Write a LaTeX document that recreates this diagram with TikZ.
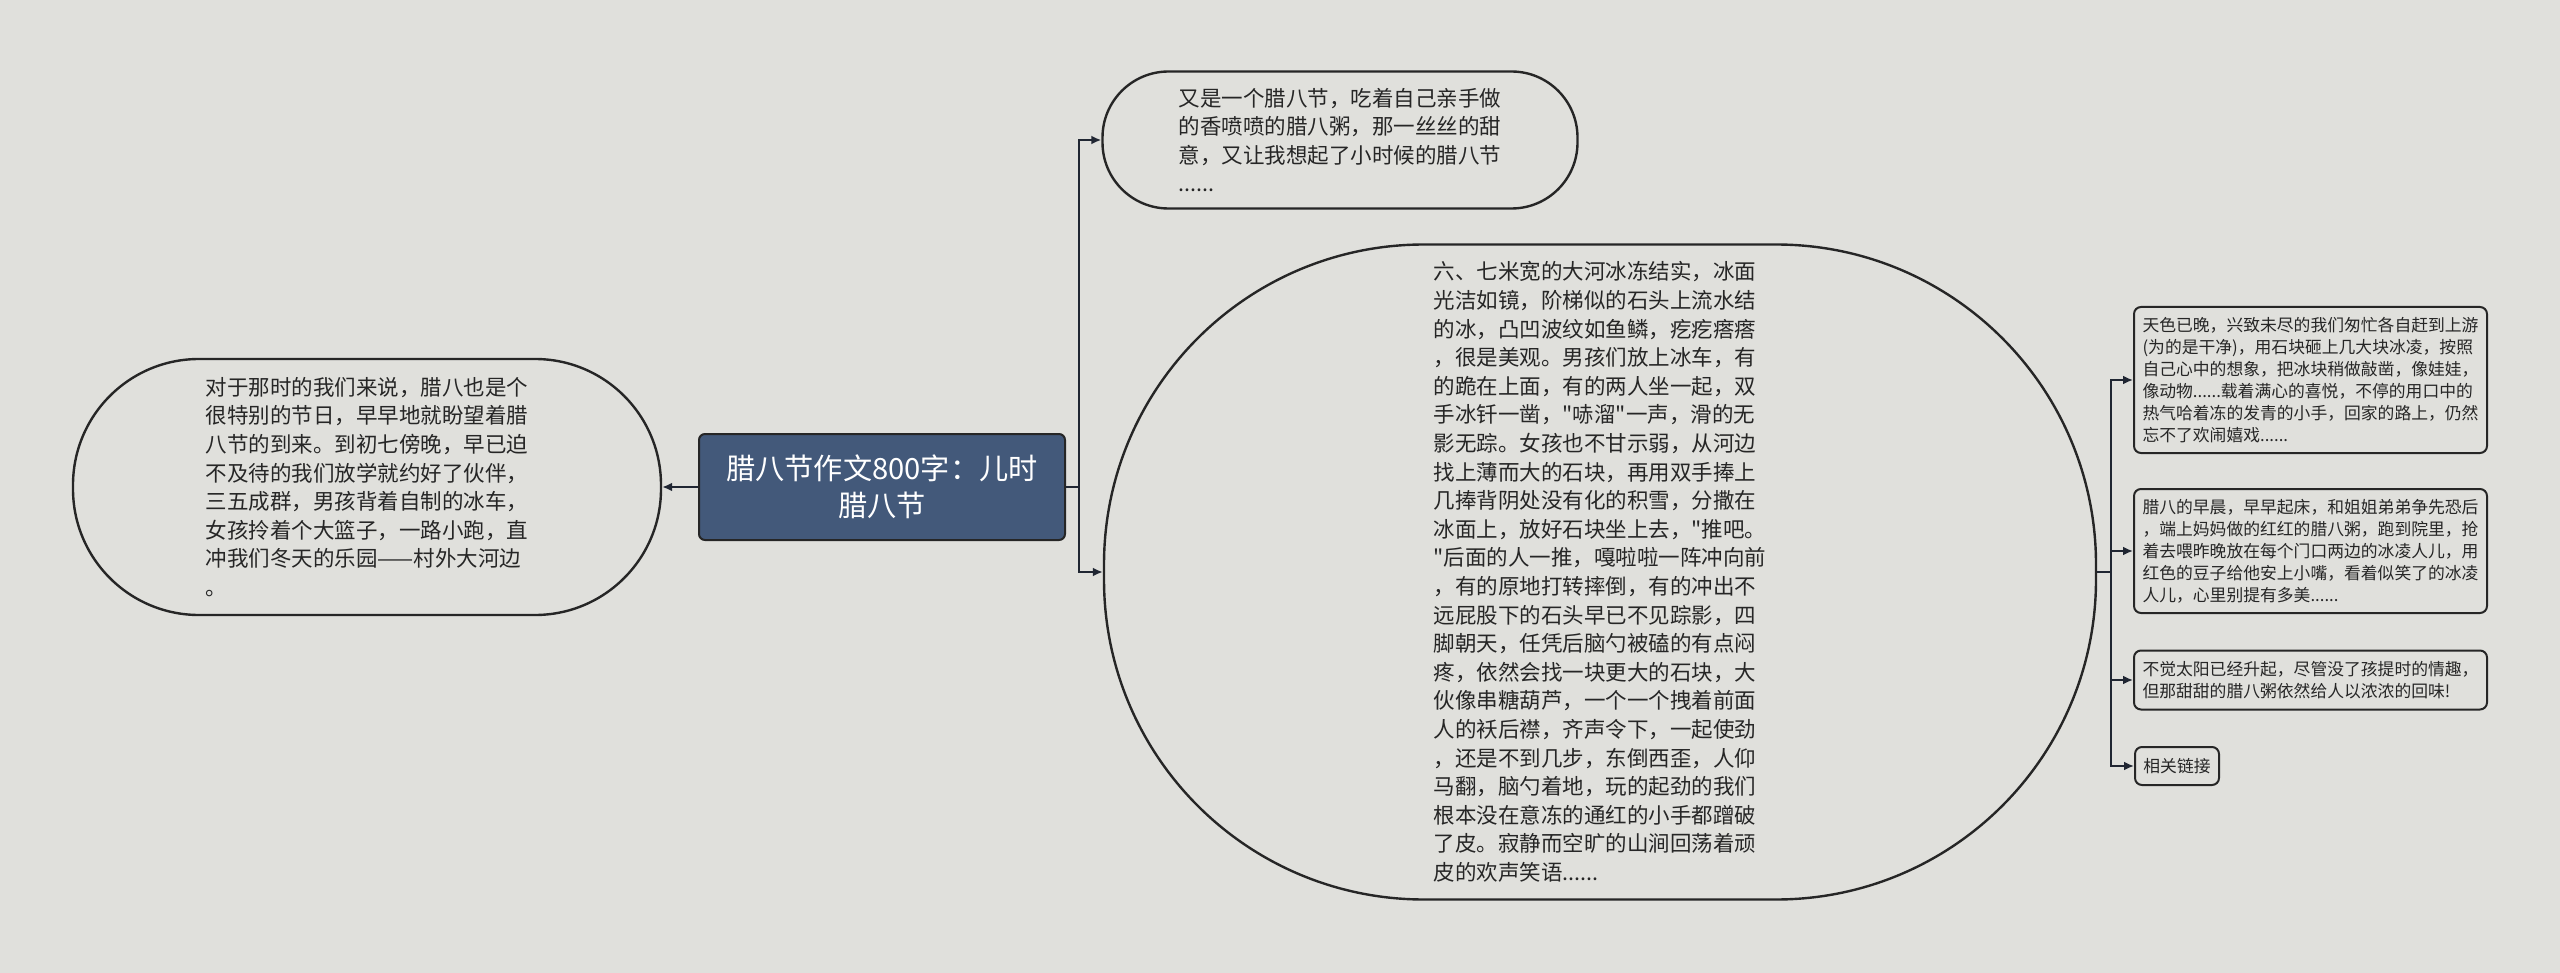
\documentclass[tikz,border=0pt]{standalone}
\usepackage{fontspec}
\setmainfont{Noto Sans CJK SC}[Ligatures=TeXOff]
\usetikzlibrary{arrows.meta}
\definecolor{bg}{RGB}{224,224,220}
\definecolor{hub}{RGB}{67,89,122}
\definecolor{ink}{RGB}{38,38,38}
\definecolor{wire}{RGB}{32,38,50}
\begin{document}
\begin{tikzpicture}[x=0.5pt,y=-0.5pt,
  bubble/.style={draw=ink, line width=1.2pt, text=ink, font=\fontsize{10.75pt}{14.3pt}\selectfont, align=left, inner sep=2pt},
  hubbox/.style={draw=black!85, fill=hub, text=white, rounded corners=3pt, line width=1pt, font=\fontsize{14.6pt}{18.5pt}\selectfont, align=center, minimum width=183pt, minimum height=53pt},
  leafbase/.style={draw=ink, line width=1pt, rounded corners=3.5pt, text=ink, font=\fontsize{8.4pt}{11pt}\selectfont, align=left, inner ysep=2pt},
  leaf/.style={leafbase, text width=168pt, inner xsep=4.25pt},
  conn/.style={draw=wire, line width=1.1pt, -{Latex[length=5pt,width=4.5pt]}}]
\fill[bg] (0,0) rectangle (2560,973);
\useasboundingbox (0,0) rectangle (2560,973);

\node[hubbox] (hub) at (882,487) {腊八节作文800字：儿时\\腊八节};

\node[bubble, minimum width=294pt, minimum height=128pt, rounded corners=63pt] (left) at (367,487)
{对于那时的我们来说，腊八也是个\\很特别的节日，早早地就盼望着腊\\八节的到来。到初七傍晚，早已迫\\不及待的我们放学就约好了伙伴，\\三五成群，男孩背着自制的冰车，\\女孩拎着个大篮子，一路小跑，直\\冲我们冬天的乐园——村外大河边\\。};

\node[bubble, minimum width=237.5pt, minimum height=68.5pt, rounded corners=33pt] (top) at (1340,140)
{又是一个腊八节，吃着自己亲手做\\的香喷喷的腊八粥，那一丝丝的甜\\意，又让我想起了小时候的腊八节\\......};

\node[bubble, minimum width=496pt, minimum height=327.5pt, rounded corners=160pt] (big) at (1600,572)
{六、七米宽的大河冰冻结实，冰面\\光洁如镜，阶梯似的石头上流水结\\的冰，凸凹波纹如鱼鳞，疙疙瘩瘩\\，很是美观。男孩们放上冰车，有\\的跪在上面，有的两人坐一起，双\\手冰钎一凿，"哧溜"一声，滑的无\\影无踪。女孩也不甘示弱，从河边\\找上薄而大的石块，再用双手捧上\\几捧背阴处没有化的积雪，分撒在\\冰面上，放好石块坐上去，"推吧。\\"后面的人一推，嘎啦啦一阵冲向前\\，有的原地打转摔倒，有的冲出不\\远屁股下的石头早已不见踪影，四\\脚朝天，任凭后脑勺被磕的有点闷\\疼，依然会找一块更大的石块，大\\伙像串糖葫芦，一个一个拽着前面\\人的袄后襟，齐声令下，一起使劲\\，还是不到几步，东倒西歪，人仰\\马翻，脑勺着地，玩的起劲的我们\\根本没在意冻的通红的小手都蹭破\\了皮。寂静而空旷的山涧回荡着顽\\皮的欢声笑语......};

\node[leaf, minimum height=73pt] (r1) at (2310.5,380)
{天色已晚，兴致未尽的我们匆忙各自赶到上游\\(为的是干净)，用石块砸上几大块冰凌，按照\\自己心中的想象，把冰块稍做敲凿，像娃娃，\\像动物......载着满心的喜悦，不停的用口中的\\热气哈着冻的发青的小手，回家的路上，仍然\\忘不了欢闹嬉戏......};
\node[leaf, minimum height=62pt] (r2) at (2310.5,551)
{腊八的早晨，早早起床，和姐姐弟弟争先恐后\\，端上妈妈做的红红的腊八粥，跑到院里，抢\\着去喂昨晚放在每个门口两边的冰凌人儿，用\\红色的豆子给他安上小嘴，看着似笑了的冰凌\\人儿，心里别提有多美......};
\node[leaf, minimum height=29.5pt] (r3) at (2310.5,680)
{不觉太阳已经升起，尽管没了孩提时的情趣，\\但那甜甜的腊八粥依然给人以浓浓的回味!};
\node[leafbase, anchor=west, minimum height=19pt, inner xsep=4.2pt] (r4) at (2134,766) {相关链接};

\draw[conn] (hub.west) -- (left.east);
\draw[conn] (hub.east) -- ++(13,0) |- (top.west);
\draw[conn] (hub.east) -- ++(13,0) |- (big.west);
\draw[conn] (big.east) -- ++(14,0) |- (r1.west);
\draw[conn] (big.east) -- ++(14,0) |- (r2.west);
\draw[conn] (big.east) -- ++(14,0) |- (r3.west);
\draw[conn] (big.east) -- ++(14,0) |- (r4.west);
\end{tikzpicture}
\end{document}
